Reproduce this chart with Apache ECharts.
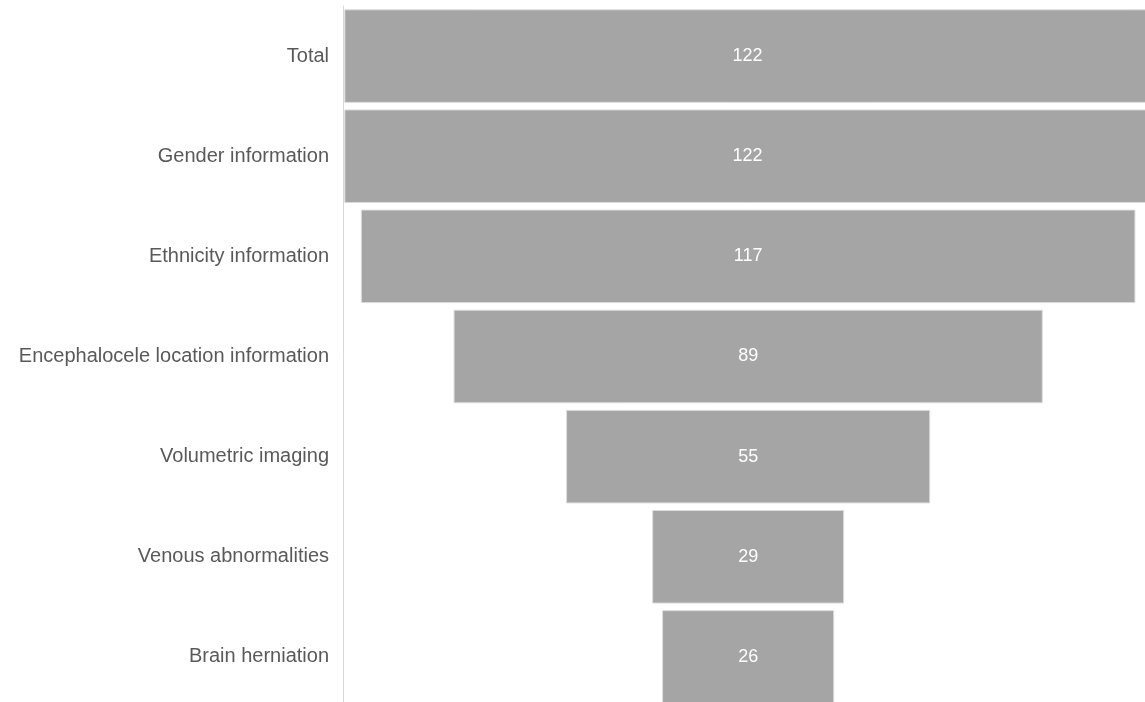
<!DOCTYPE html>
<html>
<head>
<meta charset="utf-8">
<script src="https://cdn.jsdelivr.net/npm/echarts@6/dist/echarts.min.js"></script>
<style>html,body{margin:0;padding:0;background:#fff}#c{width:1145px;height:702px}</style>
</head>
<body>
<div id="c"></div>
<script>
const categories = ["Total","Gender information","Ethnicity information","Encephalocele location information","Volumetric imaging","Venous abnormalities","Brain herniation"];
const values = [122,122,117,89,55,29,26];
const maxValue = 122;

const offsets = values.map(v => (maxValue - v) / 2);

const chart = echarts.init(document.getElementById('c'));
chart.setOption({
  animation: false,
  grid: {left: 343, right: -5, top: 6, height: 701, containLabel: false, outerBoundsMode: 'none'},
  xAxis: {type: 'value', min: -0.2, max: 121.7, show: false},
  yAxis: {
    type: 'category', data: categories, inverse: true,
    axisLine: {show: true, onZero: false, lineStyle: {color: '#d9d9d9', width: 1}},
    axisTick: {show: false},
    axisLabel: {color: '#595959', fontSize: 20, fontFamily: 'Liberation Sans', margin: 14}
  },
  series: [
    {type: 'bar', stack: 'f', data: offsets, itemStyle: {color: 'transparent'}, silent: true, barCategoryGap: '6.6%'},
    {type: 'bar', stack: 'f', data: values, barCategoryGap: '6.6%',
     itemStyle: {color: '#a5a5a5', borderColor: '#dcdcdc', borderWidth: 1},
     label: {show: true, position: 'inside', color: '#ffffff', fontSize: 18, fontFamily: 'Liberation Sans'}}
  ]
});
</script>
</body>
</html>
